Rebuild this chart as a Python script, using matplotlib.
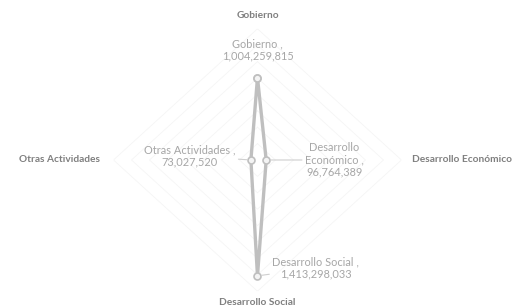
import numpy as np
import matplotlib
matplotlib.use('Agg')
import matplotlib.pyplot as plt

categories = ['Gobierno', 'Desarrollo Económico', 'Desarrollo Social', 'Otras Actividades']
point_names = ['Gobierno', 'Desarrollo\nEconómico', 'Desarrollo Social', 'Otras Actividades']
values = [1004259815, 96764389, 1413298033, 73027520]
rings = [2e8, 4e8, 6e8, 8e8, 1e9, 1.2e9, 1.4e9, 1.6e9]

plt.rcParams['font.family'] = ['Lato', 'DejaVu Sans']

fig = plt.figure(figsize=(5.22, 3.07), dpi=100)
ax = fig.add_axes([0.2174, 0.0515, 0.5517, 0.8547], projection='polar')
ax.set_aspect('auto')
ax.set_theta_offset(np.pi / 2)
ax.set_theta_direction(-1)
ax.set_ylim(0, 1.6e9)
ax.grid(False)
ax.set_xticks([])
ax.set_yticks([])
ax.spines['polar'].set_visible(False)
ax.patch.set_alpha(0)

theta = np.arange(len(categories)) * 2 * np.pi / len(categories)
theta_c = np.append(theta, theta[0])

# diamond grid, very faint
for r in rings:
    ax.plot(theta_c, [r] * len(theta_c), color='#f5f5f5', lw=0.6, zorder=1)

vals_c = values + values[:1]
ax.plot(theta_c, vals_c, color='#bfbfbf', lw=2.4, zorder=3,
        marker='o', markersize=5, markerfacecolor='#f4f4f4',
        markeredgecolor='#bfbfbf', markeredgewidth=1.2)

# category labels
cat_r = [1.768e9, 1.713e9, 1.744e9, 1.746e9]
cat_ha = ['center', 'left', 'center', 'right']
for t, r, name, ha in zip(theta, cat_r, categories, cat_ha):
    ax.text(t, r, name, ha=ha, va='center', fontsize=7.3, fontweight='bold',
            color='#7f7f7f')

# data labels
offsets = [(0, 28), (68, 0), (58, 8), (-61, 4)]
leaders = [False, True, True, True]
for t, v, name, off, lead in zip(theta, values, point_names, offsets, leaders):
    arrow = dict(arrowstyle='-', color='#cfcfcf', lw=0.8,
                 shrinkA=0, shrinkB=3) if lead else None
    ax.annotate(f'{name} ,\n{v:,}', xy=(t, v), xytext=off,
                textcoords='offset pixels', ha='center', va='center',
                multialignment='center', fontsize=7.9, color='#a6a6a6',
                linespacing=1.15, arrowprops=arrow)

fig.savefig('out.png', dpi=100)
